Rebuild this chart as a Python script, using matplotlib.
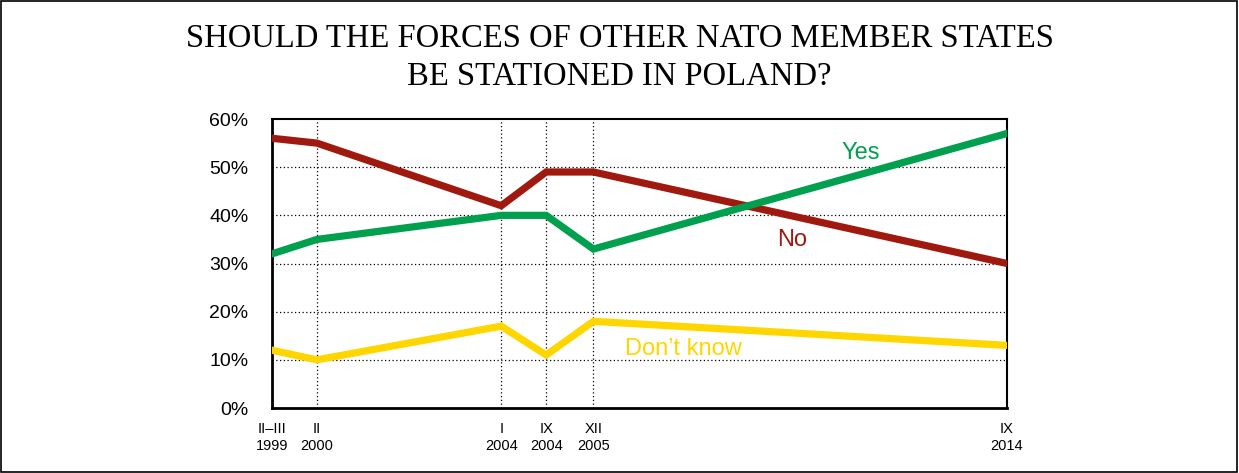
import matplotlib
matplotlib.use("Agg")
import matplotlib.pyplot as plt
from matplotlib.patches import Rectangle

# survey waves (approximate decimal year of each wave)
waves = [1999.1, 2000.05, 2003.95, 2004.9, 2005.9, 2014.65]
wave_labels = ["II–III\n1999", "II\n2000", "I\n2004", "IX\n2004", "XII\n2005", "IX\n2014"]

yes = [32, 35, 40, 40, 33, 57]
no = [56, 55, 42, 49, 49, 30]
dont_know = [12, 10, 17, 11, 18, 13]

GREEN = "#00A04F"
RED = "#A0190F"
YELLOW = "#FFD600"

fig = plt.figure(figsize=(12.39, 4.73), dpi=100)
ax = fig.add_axes([0.2195, 0.1374, 0.5933, 0.611])

ax.plot(waves, no, color=RED, lw=5.2, solid_joinstyle="miter", zorder=3)
ax.plot(waves, yes, color=GREEN, lw=5.2, solid_joinstyle="miter", zorder=4)
ax.plot(waves, dont_know, color=YELLOW, lw=5.2, solid_joinstyle="miter", zorder=3)

ax.set_xlim(waves[0], waves[-1])
ax.set_ylim(0, 60)
ax.set_yticks(range(0, 61, 10))
ax.set_yticklabels([f"{v}%" for v in range(0, 61, 10)])
ax.set_xticks(waves)
ax.set_xticklabels(wave_labels, linespacing=1.3)

ax.tick_params(axis="y", length=0, pad=17, labelsize=14)
ax.tick_params(axis="x", length=0, pad=10, labelsize=10.5)
for lab in ax.get_xticklabels() + ax.get_yticklabels():
    lab.set_family("Liberation Sans")

# dotted grid (skip the outer frame positions)
for x in waves[1:-1]:
    ax.axvline(x, color="black", lw=0.9, ls=(0, (1, 2)), zorder=1)
for y in range(10, 60, 10):
    ax.axhline(y, color="black", lw=0.9, ls=(0, (1, 2)), zorder=1)

for side in ["left", "bottom"]:
    ax.spines[side].set_linewidth(2)
for side in ["top", "right"]:
    ax.spines[side].set_linewidth(1.5)

ax.text(2011.55, 53, "Yes", color=GREEN, fontsize=17, family="Liberation Sans", ha="center", va="center")
ax.text(2010.1, 34.8, "No", color=RED, fontsize=17, family="Liberation Sans", ha="center", va="center")
ax.text(2007.8, 12.2, "Don’t know", color=YELLOW, fontsize=17, family="Liberation Sans", ha="center", va="center")

fig.text(0.5, 0.878, "SHOULD THE FORCES OF OTHER NATO MEMBER STATES\nBE STATIONED IN POLAND?",
         ha="center", va="center", fontsize=23.5, family="Liberation Serif", linespacing=1.3)

fig.patches.append(Rectangle((0.001, 0.002), 0.997, 0.995, transform=fig.transFigure,
                             fill=False, ec="black", lw=1.2))

fig.savefig("out.png", dpi=100)
